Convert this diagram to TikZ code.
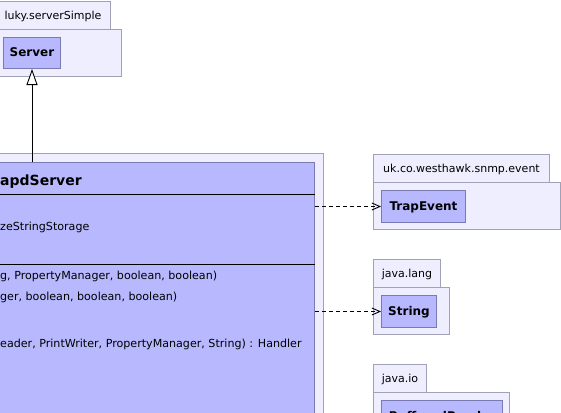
\documentclass[tikz,border=0pt]{standalone}
\usepackage{fontspec}
\setmainfont{DejaVu Sans}
\usetikzlibrary{arrows.meta}
\definecolor{pkgfill}{RGB}{238,238,255}
\definecolor{pkgborder}{RGB}{160,160,182}
\definecolor{clsfill}{RGB}{184,184,255}
\definecolor{clsborder}{RGB}{122,122,178}
\begin{document}
\begin{tikzpicture}[x=1pt,y=-1pt,
  pkgtab/.style={draw=pkgborder, fill=pkgfill, line width=1pt, inner sep=0pt, anchor=north west,
    font=\fontsize{11}{13}\selectfont, text height=9pt, text depth=1pt},
  pkgbody/.style={draw=pkgborder, fill=pkgfill, line width=1pt, inner sep=0pt, anchor=north west},
  clsbox/.style={draw=clsborder, fill=clsfill, line width=1pt, inner sep=0pt, anchor=north west,
    font=\fontsize{12}{14}\selectfont\bfseries, text height=9pt, text depth=2pt},
  membertext/.style={inner sep=0pt, anchor=base west, font=\fontsize{11.1}{13}\selectfont},
  titletext/.style={inner sep=0pt, anchor=base west, font=\fontsize{14}{16}\selectfont\bfseries},
  sepline/.style={draw=black, line width=1pt},
  dep/.style={draw=black, line width=0.9pt, dash pattern=on 4pt off 3pt, -{Straight Barb[length=8pt,width=7pt]}},
  inh/.style={draw=black, line width=0.9pt, -{Triangle[open, length=16pt, width=11pt, fill=white]}}
]
\useasboundingbox (0,0) rectangle (561,412);
\clip (0,0) rectangle (561,412);

% package luky.serverSimple
\node[pkgtab, minimum width=115pt, minimum height=28pt] (lukytab) at (-5,1) {luky.serverSimple};
\node[pkgbody, minimum width=126pt, minimum height=47pt] (lukybody) at (-5,29) {};
\node[clsbox, minimum width=57pt, minimum height=31pt] (server) at (3,37) {Server};

% main package and class
\node[pkgbody, minimum width=600pt, minimum height=300pt] (mainpkg) at (-277,153) {};
\node[pkgbody, draw=clsborder, fill=clsfill, anchor=north east, minimum width=584pt, minimum height=290pt] (main) at (315,162) {};
\coordinate (sepA) at (0,194);
\coordinate (sepB) at (0,264);
\draw[sepline] (main.west |- sepA) -- (main.east |- sepA);
\draw[sepline] (main.west |- sepB) -- (main.east |- sepB);
\node[titletext] (title) at (0,185) {apdServer};
\node[membertext] (attr) at (0,230) {zeStringStorage};
\node[membertext] (mA) at (0,279) {g, PropertyManager, boolean, boolean)};
\node[membertext] (mB) at (0,300) {ger, boolean, boolean, boolean)};
\node[membertext] (mD) at (0,347) {eader, PrintWriter, PropertyManager, String) : Handler};

% package uk.co.westhawk.snmp.event
\node[pkgtab, minimum width=176pt, minimum height=28pt] (evttab) at (373,154) {uk.co.westhawk.snmp.event};
\node[pkgbody, minimum width=187pt, minimum height=47pt] (evtbody) at (373,182) {};
\node[clsbox, minimum width=84pt, minimum height=32pt] (trapevent) at (381,190) {TrapEvent};

% package java.lang
\node[pkgtab, minimum width=67pt, minimum height=28pt] (langtab) at (373,259) {java.lang};
\node[pkgbody, minimum width=76pt, minimum height=47pt] (langbody) at (373,287) {};
\node[clsbox, minimum width=55pt, minimum height=32pt] (string) at (381,295) {String};

% package java.io
\node[pkgtab, minimum width=53pt, minimum height=28pt] (iotab) at (373,364) {java.io};
\node[pkgbody, minimum width=136pt, minimum height=60pt] (iobody) at (373,392) {};
\node[clsbox, minimum width=121pt, minimum height=32pt] (bufreader) at (381,400) {BufferedReader};

% connectors
\draw[inh] (main.north -| server.south) -- (server.south);
\draw[dep] (main.east |- trapevent.west) -- (trapevent.west);
\draw[dep] (main.east |- string.west) -- (string.west);
\end{tikzpicture}
\end{document}
